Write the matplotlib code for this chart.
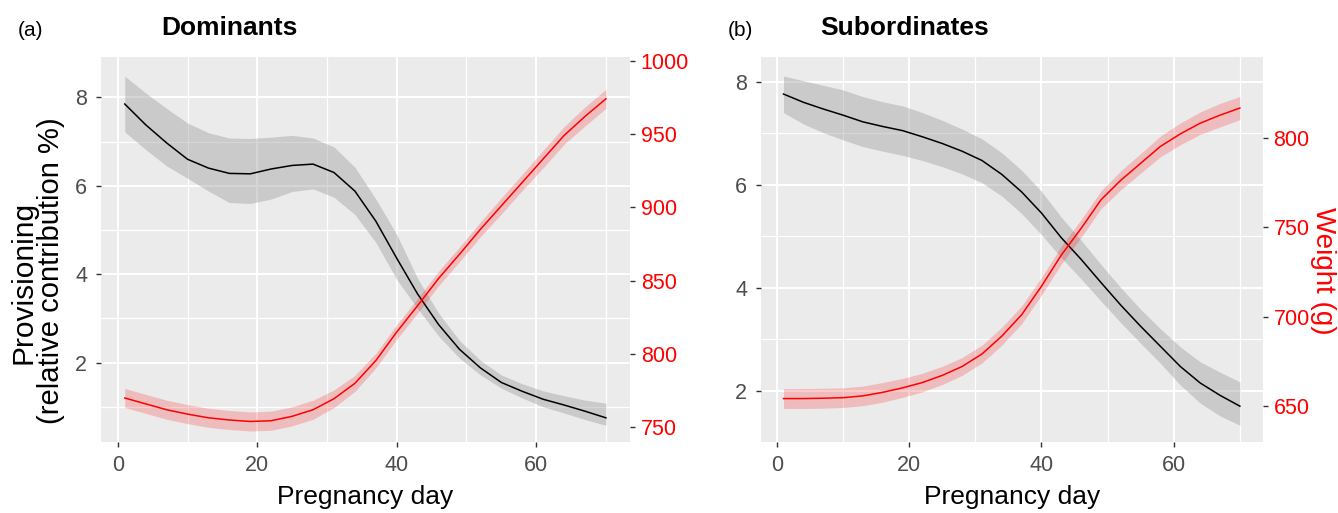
import matplotlib
matplotlib.use('Agg')
import matplotlib.pyplot as plt
from matplotlib.ticker import FixedLocator

plt.rcParams['font.family'] = ['Liberation Sans', 'DejaVu Sans']

# ---- data ----
days = [1, 4, 7, 10, 13, 16, 19, 22, 25, 28, 31, 34, 37, 40, 43, 46, 49, 52, 55, 58, 61, 64, 67, 70]

# Panel (a) Dominants
dom_prov = [7.85, 7.38, 6.97, 6.60, 6.40, 6.28, 6.27, 6.38, 6.46, 6.49, 6.30, 5.88,
            5.20, 4.36, 3.55, 2.86, 2.30, 1.88, 1.55, 1.35, 1.17, 1.04, 0.90, 0.75]
dom_prov_hi = [8.48, 8.10, 7.75, 7.42, 7.20, 7.08, 7.07, 7.10, 7.14, 7.08, 6.88, 6.42,
               5.70, 4.90, 3.90, 3.12, 2.50, 2.05, 1.72, 1.52, 1.36, 1.25, 1.15, 1.08]
dom_prov_lo = [7.22, 6.82, 6.45, 6.17, 5.88, 5.62, 5.60, 5.70, 5.87, 5.93, 5.74, 5.35,
               4.72, 3.88, 3.22, 2.60, 2.10, 1.72, 1.42, 1.20, 1.00, 0.86, 0.71, 0.58]
dom_wt = [770, 766, 762, 759, 756.5, 755, 754, 754.5, 757.5, 762, 769.5, 780,
          795.5, 815, 833, 851.5, 868, 885, 901, 917, 933, 949, 962, 974]
dom_wt_hi = [776.5, 772.5, 768.5, 765.5, 763, 761.5, 760.5, 761, 764, 768.5, 775.5, 785.5,
             800.5, 820, 838, 856.5, 873, 890, 906.5, 922.5, 939, 955, 968.5, 980.5]
dom_wt_lo = [763.5, 759.5, 755.5, 752.5, 750, 748.5, 747.5, 748, 751, 755.5, 763.5, 774.5,
             790.5, 810, 828, 846.5, 863, 880, 895.5, 911.5, 927, 943, 955.5, 967.5]

# Panel (b) Subordinates
sub_prov = [7.76, 7.60, 7.47, 7.35, 7.22, 7.13, 7.05, 6.93, 6.80, 6.65, 6.47, 6.20,
            5.86, 5.45, 4.97, 4.55, 4.10, 3.66, 3.25, 2.86, 2.47, 2.15, 1.91, 1.70]
sub_prov_hi = [8.11, 8.02, 7.93, 7.84, 7.71, 7.61, 7.53, 7.40, 7.25, 7.08, 6.89, 6.62,
               6.28, 5.87, 5.37, 4.92, 4.45, 4.00, 3.58, 3.20, 2.85, 2.56, 2.36, 2.17]
sub_prov_lo = [7.40, 7.18, 7.01, 6.87, 6.74, 6.65, 6.57, 6.47, 6.35, 6.21, 6.04, 5.78,
               5.44, 5.03, 4.58, 4.17, 3.74, 3.32, 2.92, 2.53, 2.11, 1.76, 1.51, 1.33]
sub_wt = [654, 654, 654.2, 654.5, 655.5, 657.5, 660, 663, 667, 672, 679, 689,
          701, 717, 734.5, 749.5, 765.5, 776.5, 786, 795.5, 802.5, 808.5, 813, 817]
sub_wt_hi = [659.6, 659.6, 659.8, 660, 661, 663, 665.3, 668.2, 672.1, 677, 684, 694,
             706, 722, 739.5, 754.5, 770.5, 781.8, 791.5, 801.3, 808.6, 814.8, 819.6, 823.5]
sub_wt_lo = [648.4, 648.4, 648.6, 649, 650, 652, 654.7, 657.8, 661.9, 667, 674, 684,
             696, 712, 729.5, 744.5, 760.5, 771.2, 780.5, 789.7, 796.4, 802.2, 806.4, 810.5]

x_major = [0, 20, 40, 60]
x_minor = [10, 30, 50, 70]
y_major = [2, 4, 6, 8]
y_minor = [1, 3, 5, 7]
dom_wt_ticks = [750, 800, 850, 900, 950, 1000]
sub_wt_ticks = [650, 700, 750, 800]

W, H = 1338, 513
fig = plt.figure(figsize=(W / 100, H / 100), dpi=100)

TICK_COL = '#333333'
LAB_COL = '#4D4D4D'
BG = '#EBEBEB'


def make_panel(left_px, right_px, prov, lo, hi, wt, wlo, whi, ylim, wlim, wticks):
    top_px, bot_px = 56.7, 441.7
    ax = fig.add_axes([left_px / W, 1 - bot_px / H, (right_px - left_px) / W, (bot_px - top_px) / H])
    ax.set_facecolor(BG)
    for s in ax.spines.values():
        s.set_visible(False)
    ax.set_xlim(-2.45, 73.45)
    ax.set_ylim(*ylim)
    ax.xaxis.set_major_locator(FixedLocator(x_major))
    ax.xaxis.set_minor_locator(FixedLocator(x_minor))
    ax.yaxis.set_major_locator(FixedLocator(y_major))
    ax.yaxis.set_minor_locator(FixedLocator(y_minor))
    ax.set_axisbelow(True)
    ax.grid(which='major', color='white', lw=1.4)
    ax.grid(which='minor', color='white', lw=0.9)
    ax.tick_params(which='major', length=3.8, width=1.0, color=TICK_COL,
                   labelsize=15.5, labelcolor=LAB_COL)
    ax.tick_params(axis='y', pad=6)
    ax.tick_params(axis='x', pad=6)
    ax.tick_params(which='minor', length=0)
    ax.fill_between(days, lo, hi, color='#999999', alpha=0.4, lw=0)
    ax.plot(days, prov, color='black', lw=1.1)

    ax2 = ax.twinx()
    ax2.patch.set_visible(False)
    for s in ax2.spines.values():
        s.set_visible(False)
    ax2.set_ylim(*wlim)
    ax2.yaxis.set_major_locator(FixedLocator(wticks))
    ax2.tick_params(axis='y', length=3.8, width=1.0, color=TICK_COL,
                    labelsize=15.5, labelcolor='#FF0000', pad=4)
    ax2.fill_between(days, wlo, whi, color='#FF0000', alpha=0.2, lw=0)
    ax2.plot(days, wt, color='#FF0000', lw=1.1)
    return ax, ax2


make_panel(100.7, 630.0, dom_prov, dom_prov_lo, dom_prov_hi, dom_wt, dom_wt_lo, dom_wt_hi,
           (0.21, 8.92), (740.2, 1002.7), dom_wt_ticks)
make_panel(760.7, 1262.7, sub_prov, sub_prov_lo, sub_prov_hi, sub_wt, sub_wt_lo, sub_wt_hi,
           (1.01, 8.485), (629.8, 845.8), sub_wt_ticks)

# titles and labels
fig.text(18 / W, 1 - 31 / H, '(a)', fontsize=15, ha='left', va='center')
fig.text(229 / W, 1 - 28 / H, 'Dominants', fontsize=19, fontweight='bold', ha='center', va='center')
fig.text(728 / W, 1 - 31 / H, '(b)', fontsize=15, ha='left', va='center')
fig.text(905 / W, 1 - 28 / H, 'Subordinates', fontsize=19, fontweight='bold', ha='center', va='center')

fig.text(365 / W, 1 - 497 / H, 'Pregnancy day', fontsize=19, ha='center', va='center')
fig.text(1011.7 / W, 1 - 497 / H, 'Pregnancy day', fontsize=19, ha='center', va='center')

fig.text(24 / W, 1 - 282 / H, 'Provisioning', fontsize=21.5, rotation=90, ha='center', va='center')
fig.text(51 / W, 1 - 271 / H, '(relative contribution %)', fontsize=21, rotation=90,
         ha='center', va='center')

fig.text(1323 / W, 1 - 271 / H, 'Weight (g)', fontsize=20, rotation=270, color='#FF0000',
         ha='center', va='center')

fig.savefig('out.png', dpi=100, facecolor='white')
